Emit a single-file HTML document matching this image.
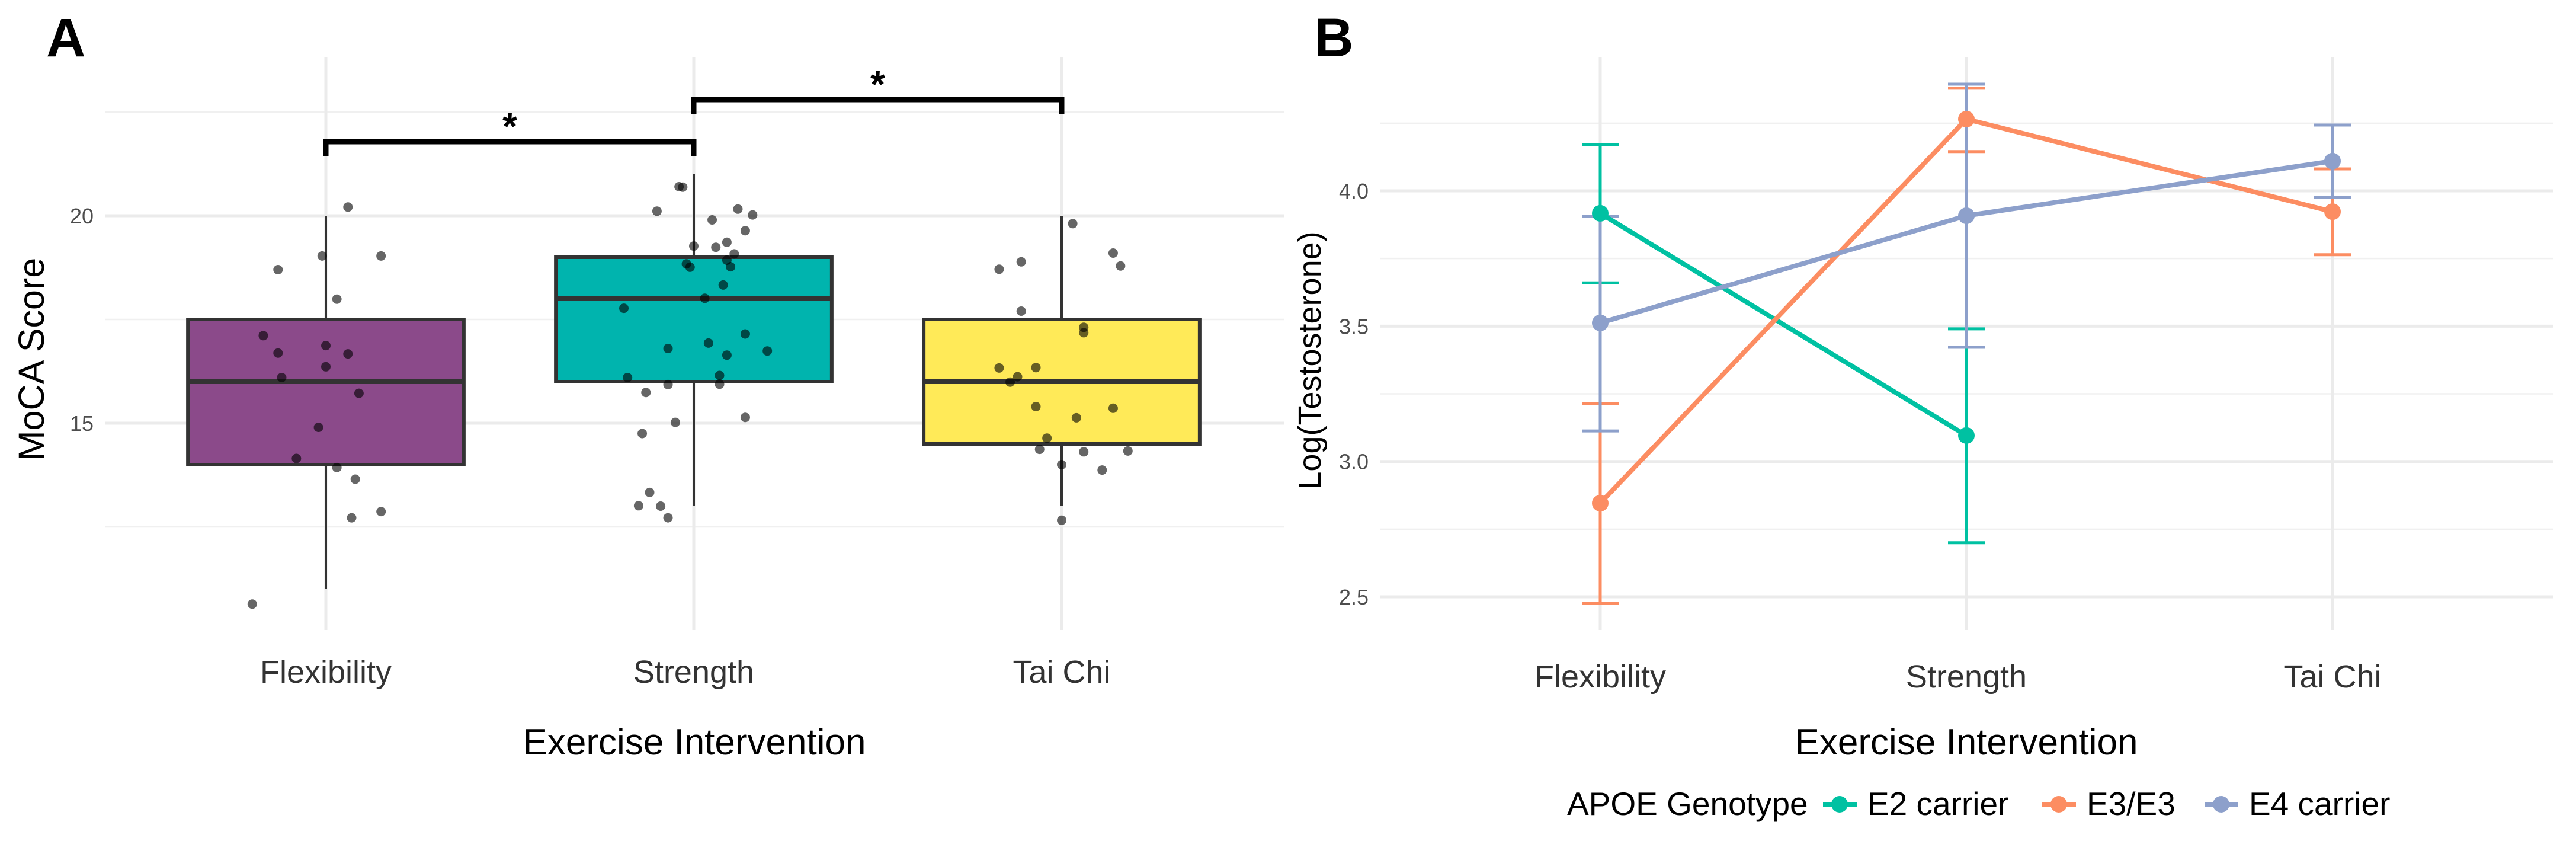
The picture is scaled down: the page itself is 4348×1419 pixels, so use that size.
<!DOCTYPE html>
<html><head><meta charset="utf-8"><style>
html,body{margin:0;padding:0;background:#fff;}
svg{display:block;font-family:"Liberation Sans",sans-serif;}
</style></head><body>
<svg id="fig" width="4348" height="1419" viewBox="0 0 4348 1419" xmlns="http://www.w3.org/2000/svg">
<g id="pa"></g>
<g id="pb"></g>
</svg>
<script>
// ---------- Panel A data ----------
const catsA = ["Flexibility","Strength","Tai Chi"];
const boxQ1 = [14, 16, 14.5];
const boxMed = [16, 18, 16];
const boxQ3 = [17.5, 19, 17.5];
const whiskLo = [11.0, 13.0, 13.0];
const whiskHi = [20, 21, 20];
const boxFill = ["#8b4a8a","#00b4ae","#ffea58"];
const ticksA = [15, 20];
const minorA = [12.5, 17.5, 22.5];
const flexVals = [20.21,19.03,19.03,18.70,17.99,17.11,16.87,16.69,16.67,16.36,16.10,15.72,14.90,14.15,13.93,13.65,12.87,12.72,10.64];
const flexJit = [0.06,-0.01,0.15,-0.13,0.03,-0.17,0,-0.13,0.06,0,-0.12,0.09,-0.02,-0.08,0.03,0.08,0.15,0.07,-0.20];
const strVals = [20.70,20.69,20.11,20.16,20.02,19.90,19.64,19.36,19.27,19.24,19.08,18.93,18.84,18.76,18.77,18.33,18.01,17.77,17.15,16.93,16.80,16.64,16.74,16.10,16.15,15.93,15.94,15.74,15.14,15.02,14.75,13.33,13.01,13.00,12.72];
const strJit = [-0.04,-0.03,-0.10,0.12,0.16,0.05,0.14,0.09,0,0.06,0.11,0.09,-0.02,-0.01,0.10,0.08,0.03,-0.19,0.14,0.04,-0.07,0.09,0.20,-0.18,0.07,-0.07,0.07,-0.13,0.14,-0.05,-0.14,-0.12,-0.15,-0.09,-0.07];
const taiVals = [19.81,19.10,18.79,18.71,18.89,17.70,17.31,17.18,16.33,16.34,16.12,15.99,15.40,15.36,15.13,14.64,14.37,14.31,14.33,14.00,13.87,12.66];
const taiJit = [0.03,0.14,0.16,-0.17,-0.11,-0.11,0.06,0.06,-0.17,-0.07,-0.12,-0.14,-0.07,0.14,0.04,-0.04,-0.06,0.06,0.18,0,0.11,0];

// ---------- Panel B data ----------
const catsB = ["Flexibility","Strength","Tai Chi"];
const groups = ["E2 carrier","E3/E3","E4 carrier"];
const groupCol = ["#00c1a2","#fc8d62","#8da0cb"];
const e2Mean = [3.917, 3.096, null];
const e2Lo = [3.66, 2.70, null];
const e2Hi = [4.17, 3.49, null];
const e3Mean = [2.846, 4.265, 3.923];
const e3Lo = [2.476, 4.145, 3.764];
const e3Hi = [3.214, 4.379, 4.081];
const e4Mean = [3.512, 3.908, 4.11];
const e4Lo = [3.113, 3.422, 3.976];
const e4Hi = [3.906, 4.394, 4.243];
const ticksB = [2.5, 3.0, 3.5, 4.0];
const minorB = [2.75, 3.25, 3.75, 4.25];

const NS = "http://www.w3.org/2000/svg";
function mk(parent, tag, attrs, text){
  const e = document.createElementNS(NS, tag);
  for (const k in attrs) e.setAttribute(k, attrs[k]);
  if (text !== undefined) e.textContent = text;
  parent.appendChild(e);
  return e;
}
const pa = document.getElementById('pa');
const pb = document.getElementById('pb');

// ---- Panel A scales
const A = {left:177, right:2168, top:97, bottom:1063};
const xA = i => 550 + i*621;
const yA = v => 364 + (20 - v)*70;
const catW = 621;

let t = mk(pa,'text',{x:78,y:95,'font-size':92,'font-weight':'bold',fill:'#000'},'A');



minorA.forEach(v=>{
  const l = mk(pa,'line',{x1:A.left,x2:A.right,y1:yA(v),y2:yA(v),stroke:'#f0f0f0','stroke-width':2.5});
  
  
});
ticksA.forEach(v=>{
  const l = mk(pa,'line',{x1:A.left,x2:A.right,y1:yA(v),y2:yA(v),stroke:'#ebebeb','stroke-width':5});
  
  
  const tx = mk(pa,'text',{x:158,y:yA(v)+13,'font-size':36,'text-anchor':'end',fill:'#4d4d4d'},String(v));
  
  
});
catsA.forEach((c,i)=>{
  const l = mk(pa,'line',{x1:xA(i),x2:xA(i),y1:A.top,y2:A.bottom,stroke:'#ebebeb','stroke-width':5});
  
  
  const tx = mk(pa,'text',{x:xA(i),y:1152,'font-size':54,'text-anchor':'middle',fill:'#333'},c);
  
  
});
// boxes
catsA.forEach((c,i)=>{
  const g = mk(pa,'g',{});
  
  
  mk(g,'line',{x1:xA(i),x2:xA(i),y1:yA(whiskHi[i]),y2:yA(boxQ3[i]),stroke:'#333','stroke-width':4});
  mk(g,'line',{x1:xA(i),x2:xA(i),y1:yA(boxQ1[i]),y2:yA(whiskLo[i]),stroke:'#333','stroke-width':4});
  const hw = catW*0.375;
  mk(g,'rect',{x:xA(i)-hw,y:yA(boxQ3[i]),width:2*hw,height:yA(boxQ1[i])-yA(boxQ3[i]),fill:boxFill[i],stroke:'#333','stroke-width':6});
  mk(g,'line',{x1:xA(i)-hw,x2:xA(i)+hw,y1:yA(boxMed[i]),y2:yA(boxMed[i]),stroke:'#333','stroke-width':8});
});
// points
[[flexVals,flexJit],[strVals,strJit],[taiVals,taiJit]].forEach((pair,i)=>{
  pair[0].forEach((v,k)=>{
    const c = mk(pa,'circle',{cx:xA(i)+pair[1][k]*catW,cy:yA(v),r:8,fill:'#000','fill-opacity':0.6});
    
    
  });
});
// significance brackets
function bracket(i1,i2,yb,label){
  const g = mk(pa,'g',{});
  
  
  mk(g,'path',{d:`M${xA(i1)},${yb+24} V${yb} H${xA(i2)} V${yb+24}`,fill:'none',stroke:'#000','stroke-width':9});
  mk(g,'text',{x:(xA(i1)+xA(i2))/2,y:yb-4,'font-size':64,'font-weight':'bold','text-anchor':'middle',fill:'#000'},label);
}
bracket(0,1,239,'*');
bracket(1,2,168,'*');
t = mk(pa,'text',{x:1172,y:1273,'font-size':62,'text-anchor':'middle',fill:'#000'},'Exercise Intervention');


t = mk(pa,'text',{x:0,y:0,'font-size':61,'text-anchor':'middle',fill:'#000',transform:'translate(74,606) rotate(-90)'},'MoCA Score');



// ---- Panel B
const B = {left:2330, right:4310, top:97, bottom:1063};
const xB = i => 2701 + i*618;
const yB = v => 322 + (4 - v)*456.7;

t = mk(pb,'text',{x:2218,y:95,'font-size':92,'font-weight':'bold',fill:'#000'},'B');


minorB.forEach(v=>{
  const l = mk(pb,'line',{x1:B.left,x2:B.right,y1:yB(v),y2:yB(v),stroke:'#f0f0f0','stroke-width':2.5});
  
  
});
ticksB.forEach(v=>{
  const l = mk(pb,'line',{x1:B.left,x2:B.right,y1:yB(v),y2:yB(v),stroke:'#ebebeb','stroke-width':5});
  
  
  const tx = mk(pb,'text',{x:2310,y:yB(v)+13,'font-size':36,'text-anchor':'end',fill:'#4d4d4d'},v.toFixed(1));
  
  
});
catsB.forEach((c,i)=>{
  const l = mk(pb,'line',{x1:xB(i),x2:xB(i),y1:B.top,y2:B.bottom,stroke:'#ebebeb','stroke-width':5});
  
  
  const tx = mk(pb,'text',{x:xB(i),y:1160,'font-size':54,'text-anchor':'middle',fill:'#333'},c);
  
  
});
const means=[e2Mean,e3Mean,e4Mean], los=[e2Lo,e3Lo,e4Lo], his=[e2Hi,e3Hi,e4Hi];
// error bars
groups.forEach((gname,gi)=>{
  means[gi].forEach((m,i)=>{
    if(m===null) return;
    const g = mk(pb,'g',{stroke:groupCol[gi],'stroke-width':5});
    
    
    mk(g,'line',{x1:xB(i),x2:xB(i),y1:yB(his[gi][i]),y2:yB(los[gi][i])});
    mk(g,'line',{x1:xB(i)-31,x2:xB(i)+31,y1:yB(his[gi][i]),y2:yB(his[gi][i])});
    mk(g,'line',{x1:xB(i)-31,x2:xB(i)+31,y1:yB(los[gi][i]),y2:yB(los[gi][i])});
  });
});
groups.forEach((gname,gi)=>{
  const pts = [];
  means[gi].forEach((m,i)=>{ if(m!==null) pts.push(xB(i)+','+yB(m)); });
  const pl = mk(pb,'polyline',{points:pts.join(' '),fill:'none',stroke:groupCol[gi],'stroke-width':8,'stroke-linejoin':'round'});
  
  
  means[gi].forEach((m,i)=>{
    if(m===null) return;
    const c = mk(pb,'circle',{cx:xB(i),cy:yB(m),r:14,fill:groupCol[gi]});
    
    
  });
});
t = mk(pb,'text',{x:3319,y:1273,'font-size':62,'text-anchor':'middle',fill:'#000'},'Exercise Intervention');


t = mk(pb,'text',{x:0,y:0,'font-size':54,'text-anchor':'middle',fill:'#000',transform:'translate(2229,608) rotate(-90)'},'Log(Testosterone)');


// legend
const lg = mk(pb,'g',{});


t = mk(lg,'text',{x:2645,y:1375,'font-size':55,fill:'#000'},'APOE Genotype');


const keyX = [3077,3447,3721];
groups.forEach((gname,gi)=>{
  const e = mk(lg,'g',{});
  
  
  mk(e,'line',{x1:keyX[gi],x2:keyX[gi]+57,y1:1357,y2:1357,stroke:groupCol[gi],'stroke-width':8});
  mk(e,'circle',{cx:keyX[gi]+28,cy:1357,r:14,fill:groupCol[gi]});
  mk(e,'text',{x:keyX[gi]+75,y:1375,'font-size':55,fill:'#000'},gname);
});
</script>
</body></html>
